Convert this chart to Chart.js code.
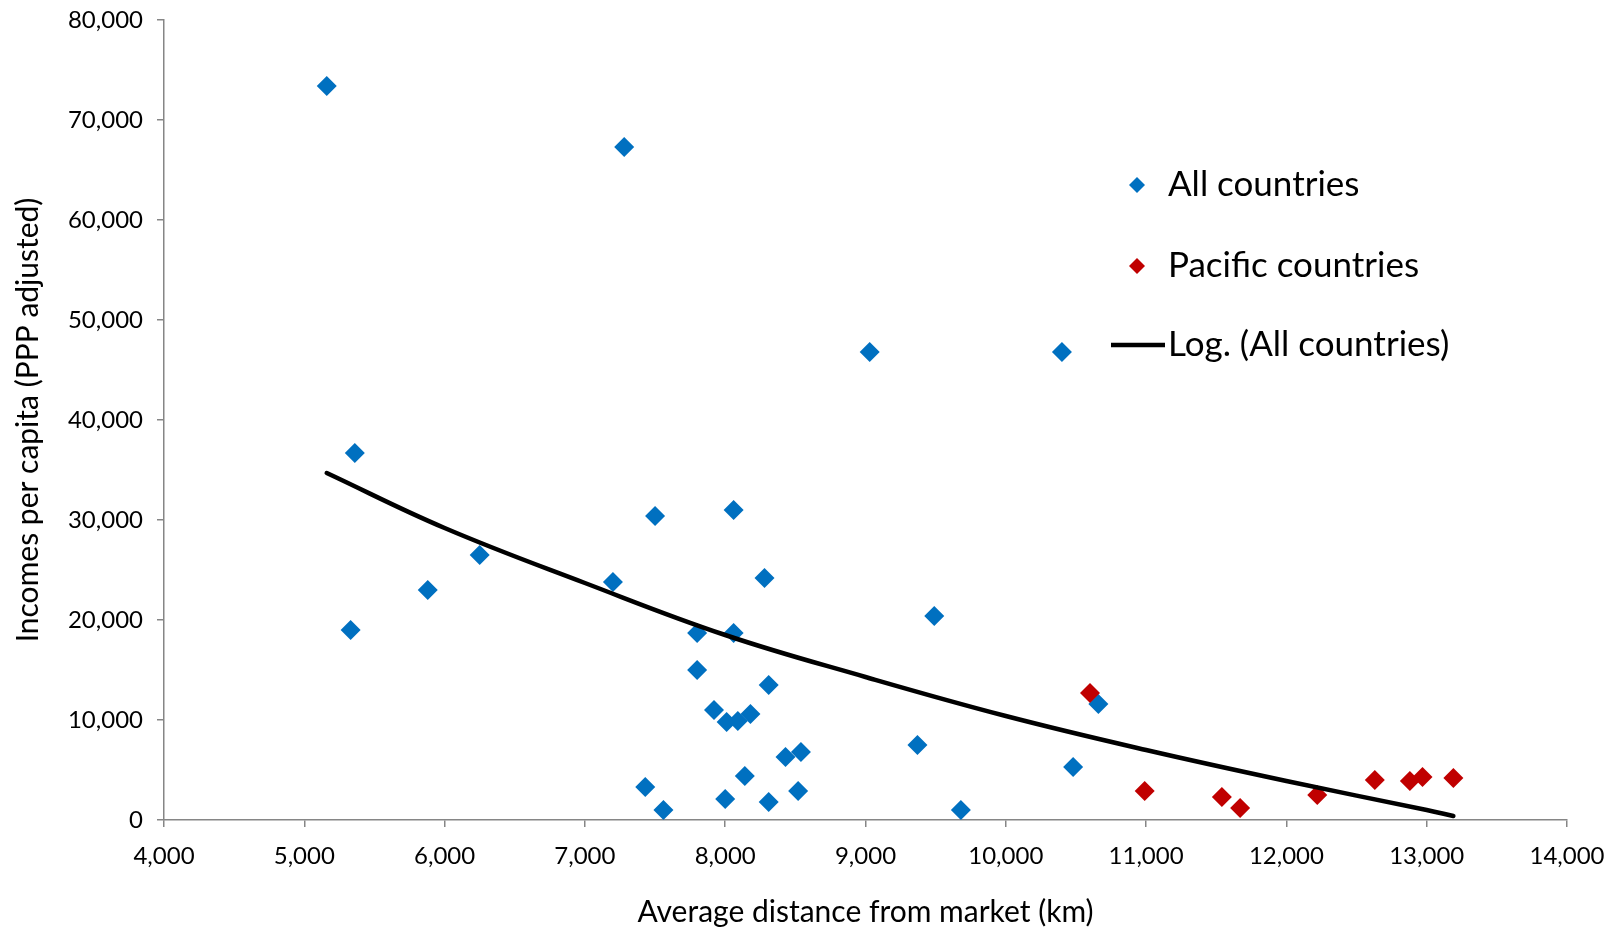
<!DOCTYPE html>
<html>
<head>
<meta charset="utf-8">
<script src="https://cdn.jsdelivr.net/npm/chart.js@4"></script>
<style>
  body { margin: 0; background: #fff; }
  #wrap { width: 1616px; height: 928px; }
</style>
</head>
<body>
<div id="wrap"><canvas id="chart" width="1616" height="928"></canvas></div>
<script>
// All countries (km, income per capita)
const allX = [5160, 7280, 5360, 5330, 5880, 6250, 7200, 7500, 8060, 8280, 7800, 8060, 7800, 7920,
  8010, 8090, 8180, 8310, 8430, 8540, 8140, 7430, 7560, 8000, 8310, 8520, 9030, 9490, 9370,
  9680, 10400, 10480, 10660];
const allY = [73400, 67300, 36700, 19000, 23000, 26500, 23800, 30400, 31000, 24200, 18700, 18700,
  15000, 11000, 9800, 9900, 10600, 13500, 6300, 6800, 4400, 3300, 1000, 2100, 1800, 2900, 46800,
  20400, 7500, 1000, 46800, 5300, 11600];

// Pacific countries
const pacX = [10600, 10990, 11540, 11670, 12220, 12630, 12880, 12970, 13190];
const pacY = [12700, 2900, 2300, 1200, 2500, 4000, 3900, 4300, 4200];

// Log trendline
const trendX = [5160, 6000, 7000, 8000, 9000, 10000, 11000, 12000, 13000, 13190];
const trendY = [34700, 29200, 23700, 18500, 14300, 10400, 7000, 3900, 1000, 400];

const xTicks = [4000, 5000, 6000, 7000, 8000, 9000, 10000, 11000, 12000, 13000, 14000];
const yTicks = [0, 10000, 20000, 30000, 40000, 50000, 60000, 70000, 80000];

const FONT = 'Lato';
const BLUE = '#0070C0';
const RED = '#C00000';
const AXIS = '#868686';

const toPts = (xs, ys) => xs.map((x, i) => ({ x: x, y: ys[i] }));

// legend drawn inside the plot, like the original
const sideLegend = {
  id: 'sideLegend',
  afterDraw(chart) {
    const ctx = chart.ctx;
    const x0 = 1137, tx = 1168;
    const rows = [185, 266, 345];
    ctx.save();
    ctx.font = '35px ' + FONT;
    ctx.fillStyle = '#000';
    ctx.textBaseline = 'middle';
    chart.data.datasets.forEach((ds, i) => {
      const y = rows[i];
      if (ds.showLine) {
        ctx.strokeStyle = ds.borderColor;
        ctx.lineWidth = 4.5;
        ctx.beginPath();
        ctx.moveTo(1111, y);
        ctx.lineTo(1165, y);
        ctx.stroke();
      } else {
        ctx.fillStyle = ds.backgroundColor;
        ctx.beginPath();
        ctx.moveTo(x0, y - 8);
        ctx.lineTo(x0 + 8, y);
        ctx.lineTo(x0, y + 8);
        ctx.lineTo(x0 - 8, y);
        ctx.closePath();
        ctx.fill();
        ctx.fillStyle = '#000';
      }
      ctx.fillText(ds.label, tx, y);
    });
    ctx.restore();
  }
};

new Chart(document.getElementById('chart'), {
  type: 'scatter',
  data: {
    datasets: [
      {
        label: 'All countries',
        data: toPts(allX, allY),
        backgroundColor: BLUE,
        borderColor: BLUE,
        pointStyle: 'rectRot',
        pointRadius: 10,
        borderWidth: 0,
        order: 2
      },
      {
        label: 'Pacific countries',
        data: toPts(pacX, pacY),
        backgroundColor: RED,
        borderColor: RED,
        pointStyle: 'rectRot',
        pointRadius: 10,
        borderWidth: 0,
        order: 1
      },
      {
        label: 'Log. (All countries)',
        data: toPts(trendX, trendY),
        showLine: true,
        borderColor: '#000',
        backgroundColor: '#000',
        borderWidth: 4.5,
        pointRadius: 0,
        tension: 0.4,
        borderCapStyle: 'round',
        order: 0
      }
    ]
  },
  options: {
    responsive: false,
    animation: false,
    layout: { padding: { top: 20, right: 49, left: 6, bottom: 0 } },
    plugins: {
      legend: { display: false },
      tooltip: { enabled: false }
    },
    scales: {
      x: {
        type: 'linear',
        min: 4000,
        max: 14000,
        afterBuildTicks: s => { s.ticks = xTicks.map(v => ({ value: v })); },
        afterFit: s => { s.height = 108; s.paddingLeft = 0; s.paddingRight = 0; },
        grid: { drawOnChartArea: false, drawTicks: true, tickLength: 7, color: AXIS, lineWidth: 1.5 },
        border: { color: AXIS, width: 1.5 },
        ticks: {
          color: '#000',
          padding: 15,
          font: { family: FONT, size: 24 },
          callback: v => v.toLocaleString('en-US')
        },
        title: {
          display: true,
          text: 'Average distance from market (km)',
          color: '#000',
          font: { family: FONT, size: 30 },
          padding: { top: 21, bottom: -2 }
        }
      },
      y: {
        type: 'linear',
        min: 0,
        max: 80000,
        afterBuildTicks: s => { s.ticks = yTicks.map(v => ({ value: v })); },
        afterFit: s => { s.width = 158; s.paddingTop = 0; s.paddingBottom = 0; },
        grid: { drawOnChartArea: false, drawTicks: true, tickLength: 7, color: AXIS, lineWidth: 1.5 },
        border: { color: AXIS, width: 1.5 },
        ticks: {
          color: '#000',
          padding: 14,
          font: { family: FONT, size: 24 },
          callback: v => v.toLocaleString('en-US')
        },
        title: {
          display: true,
          text: 'Incomes per capita (PPP adjusted)',
          color: '#000',
          font: { family: FONT, size: 30 },
          padding: { bottom: 8 }
        }
      }
    }
  },
  plugins: [sideLegend]
});
</script>
</body>
</html>
